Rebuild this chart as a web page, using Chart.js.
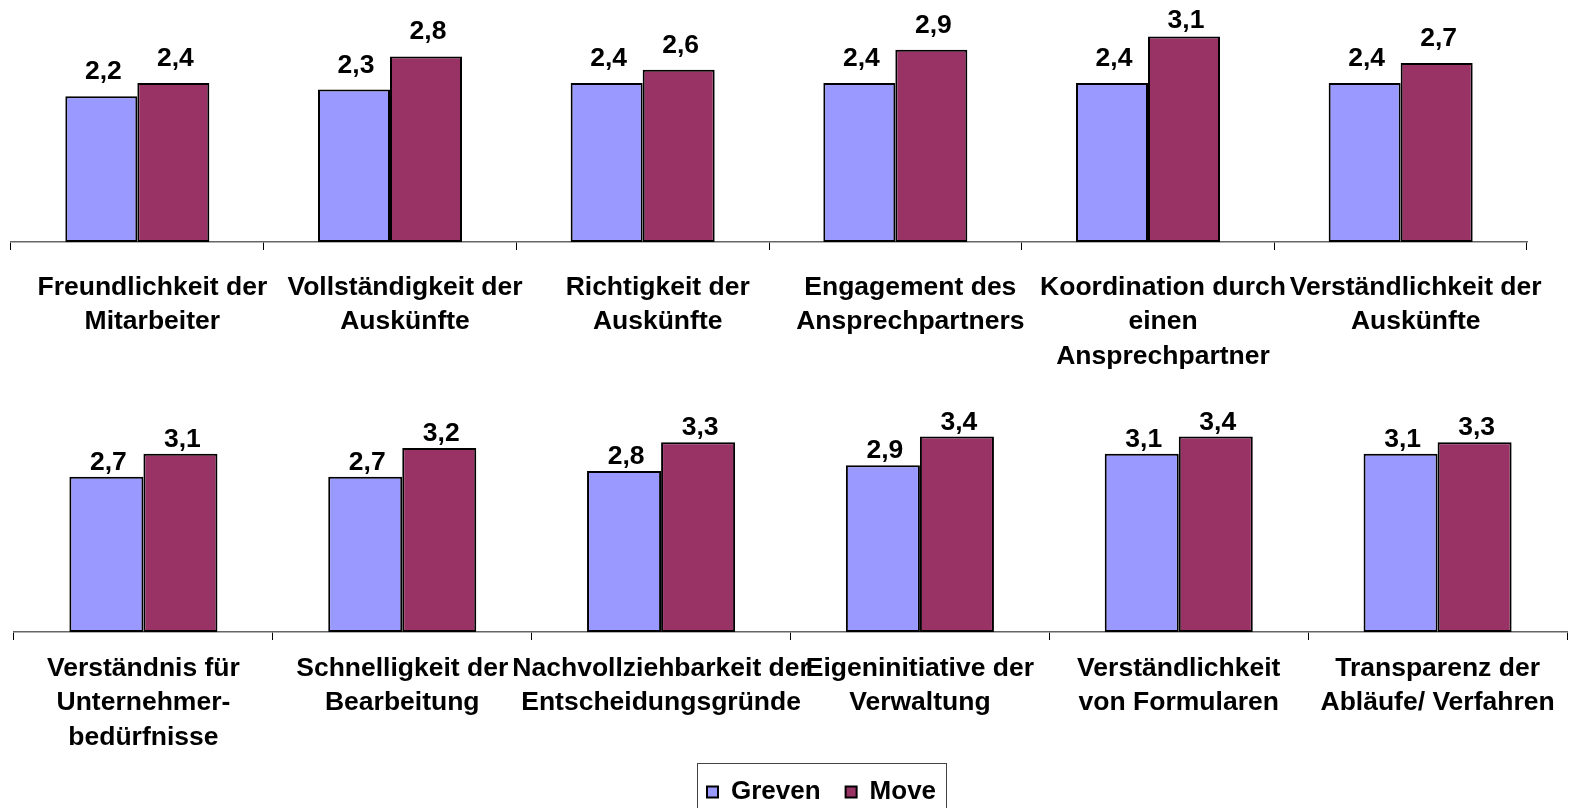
<!DOCTYPE html>
<html lang="de">
<head>
<meta charset="utf-8">
<title>Greven / Move</title>
<script src="https://cdn.jsdelivr.net/npm/chart.js@4/dist/chart.umd.min.js"></script>
<style>
  html, body { margin: 0; padding: 0; background: #fff; overflow: hidden; }
  body { width: 1572px; height: 808px; position: relative; }
  canvas { position: absolute; left: 0; }
  #top { top: 0; }
  #bottom { top: 392px; }
</style>
</head>
<body>
<canvas id="top" width="1572" height="392"></canvas>
<canvas id="bottom" width="1572" height="423"></canvas>
<script>
const seriesNames = ['Greven', 'Move'];

const topLabels = [
  ['Freundlichkeit der', 'Mitarbeiter'],
  ['Vollständigkeit der', 'Auskünfte'],
  ['Richtigkeit der', 'Auskünfte'],
  ['Engagement des', 'Ansprechpartners'],
  ['Koordination durch', 'einen', 'Ansprechpartner'],
  ['Verständlichkeit der', 'Auskünfte']
];
const topGreven = [2.2, 2.3, 2.4, 2.4, 2.4, 2.4];
const topMove = [2.4, 2.8, 2.6, 2.9, 3.1, 2.7];

const bottomLabels = [
  ['Verständnis für', 'Unternehmer-', 'bedürfnisse'],
  ['Schnelligkeit der', 'Bearbeitung'],
  ['Nachvollziehbarkeit der', 'Entscheidungsgründe'],
  ['Eigeninitiative der', 'Verwaltung'],
  ['Verständlichkeit', 'von Formularen'],
  ['Transparenz der', 'Abläufe/ Verfahren']
];
const bottomGreven = [2.7, 2.7, 2.8, 2.9, 3.1, 3.1];
const bottomMove = [3.1, 3.2, 3.3, 3.4, 3.4, 3.3];

const colors = ['#9999ff', '#993366'];
const FONT = '"Liberation Sans", Arial, Helvetica, sans-serif';
Chart.defaults.font.family = FONT;
Chart.defaults.color = '#000';

// value labels above every bar, German decimal comma
const valueLabels = {
  id: 'valueLabels',
  afterDatasetsDraw(chart, args, opts) {
    const ctx = chart.ctx;
    ctx.save();
    ctx.font = 'bold 26.5px ' + FONT;
    ctx.fillStyle = '#000';
    ctx.textAlign = 'center';
    ctx.textBaseline = 'alphabetic';
    chart.data.datasets.forEach((ds, i) => {
      chart.getDatasetMeta(i).data.forEach((bar, j) => {
        const y = Math.max(bar.y - opts.gap, opts.minY);
        ctx.fillText(ds.data[j].toFixed(1).replace('.', ','), bar.x + 2, y);
      });
    });
    ctx.restore();
  }
};

// move the legend row so it starts at a given x, and frame it
const legendFrame = {
  id: 'legendFrame',
  afterLayout(chart, args, opts) {
    const l = chart.legend;
    if (!l || !l.lineWidths) return;
    const pad = l.options.labels.padding;
    const start = (l.left + pad + l.right - l.lineWidths[0]) / 2;
    const dx = opts.startX - start;
    l.left += dx;
    l.right += dx;
  },
  afterDraw(chart) {
    const boxes = chart.legend && chart.legend.legendHitBoxes;
    if (!boxes || !boxes.length) return;
    const first = boxes[0], last = boxes[boxes.length - 1];
    const ctx = chart.ctx;
    ctx.save();
    ctx.strokeStyle = '#444';
    ctx.lineWidth = 1;
    ctx.strokeRect(Math.round(first.left - 10) + 0.5, Math.round(first.top - 16) + 0.5,
      Math.round(last.left + last.width - first.left + 20), 60);
    ctx.restore();
  }
};

function makeChart(id, labels, greven, move, cfg) {
  return new Chart(document.getElementById(id), {
    type: 'bar',
    data: {
      labels,
      datasets: [greven, move].map((data, i) => ({
        label: seriesNames[i],
        data,
        backgroundColor: colors[i],
        borderColor: '#000',
        borderWidth: 2,
        borderSkipped: false,
        barPercentage: 1,
        categoryPercentage: cfg.catPct
      }))
    },
    options: {
      responsive: false,
      animation: false,
      layout: { padding: cfg.padding },
      plugins: {
        tooltip: { enabled: false },
        legend: cfg.legend,
        valueLabels: { gap: cfg.gap, minY: cfg.labelMinY },
        legendFrame: { startX: 707 }
      },
      scales: {
        x: {
          offset: true,
          grid: { display: true, offset: true, drawOnChartArea: false, drawTicks: true, tickLength: 8, color: '#000', lineWidth: 1 },
          border: { display: true, color: '#666', width: 1.5 },
          ticks: {
            autoSkip: false, maxRotation: 0, minRotation: 0,
            padding: cfg.tickPad, labelOffset: cfg.labelOffset,
            color: '#000',
            font: { size: 26.5, weight: 'bold', lineHeight: '34.5px' }
          },
          afterFit(scale) { scale.height = cfg.axisHeight; }
        },
        y: { display: false, min: 0, max: cfg.max }
      }
    },
    plugins: cfg.legend.display ? [valueLabels, legendFrame] : [valueLabels]
  });
}

makeChart('top', topLabels, topGreven, topMove, {
  catPct: 0.57, max: 3.5, gap: 17, labelMinY: 27.5, tickPad: 20, labelOffset: 15, axisHeight: 150,
  padding: { top: 10, left: 11, right: 45, bottom: 0 },
  legend: { display: false }
});

makeChart('bottom', bottomLabels, bottomGreven, bottomMove, {
  catPct: 0.572, max: 4, gap: 7, labelMinY: 0, tickPad: 11, labelOffset: 0, axisHeight: 122,
  padding: { top: 10, left: 14, right: 5, bottom: 0 },
  legend: {
    display: true, position: 'bottom',
    labels: { boxWidth: 11, boxHeight: 11, padding: 25, color: '#000', font: { size: 26, weight: 'bold' } }
  }
});
</script>
</body>
</html>
